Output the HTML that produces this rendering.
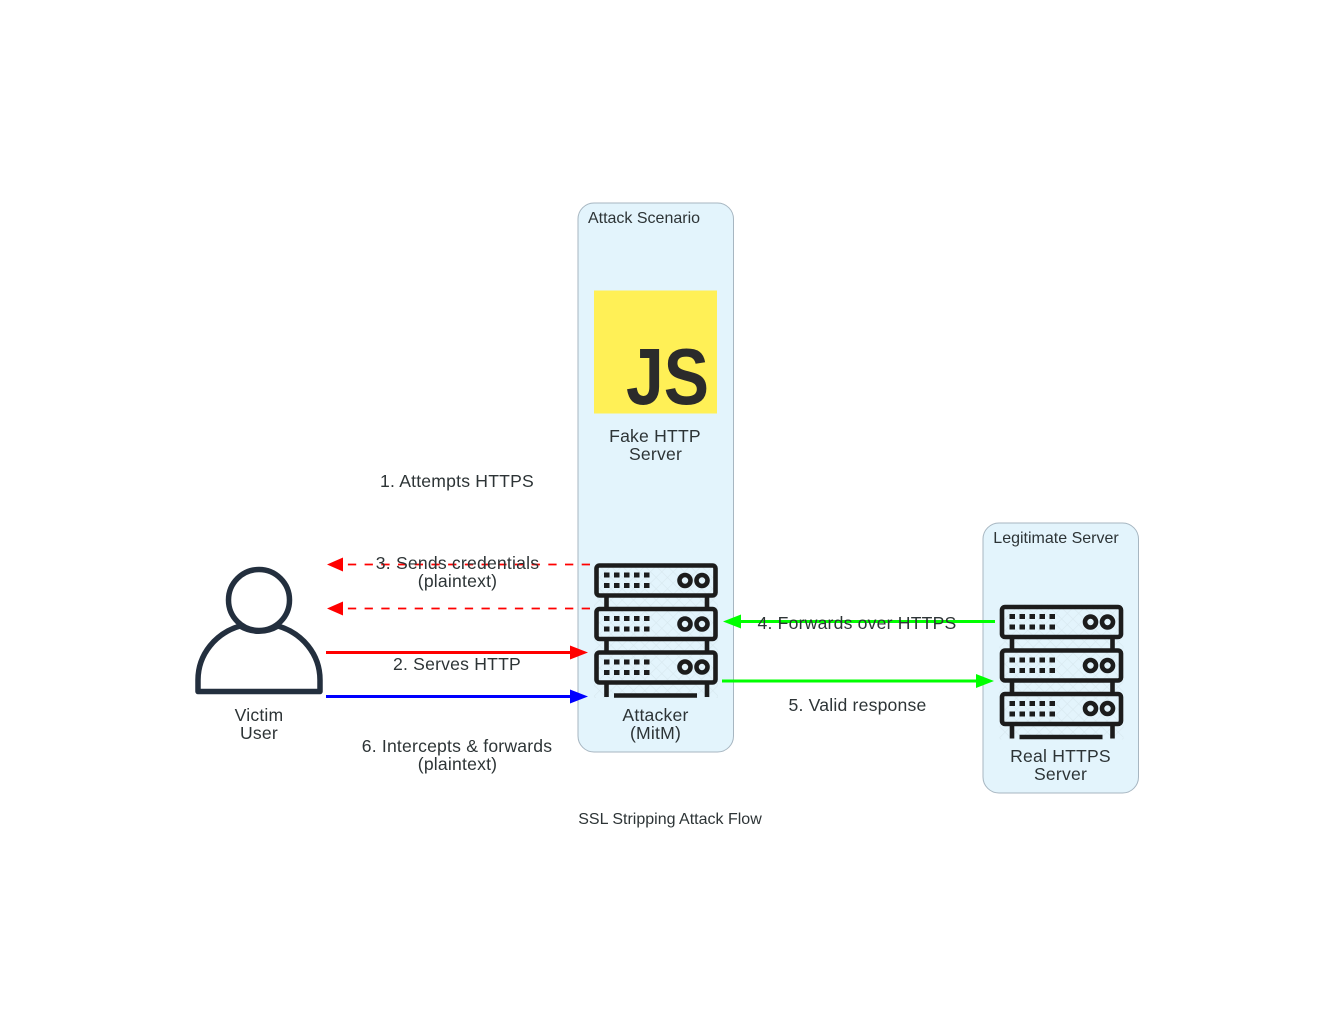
<!DOCTYPE html>
<html><head><meta charset="utf-8"><title>SSL Stripping Attack Flow</title>
<style>
html,body{margin:0;padding:0;background:#fff}
svg{display:block}
text{font-family:"Liberation Sans",sans-serif;font-size:17.6px;letter-spacing:.2px;fill:#2d3436;text-anchor:middle}
.s{font-size:16px;letter-spacing:0}
</style></head><body>
<svg width="1342" height="1026" viewBox="0 0 1342 1026" xmlns="http://www.w3.org/2000/svg">
<defs>
<pattern id="hatch" width="8" height="8" patternUnits="userSpaceOnUse" patternTransform="rotate(45)">
  <path d="M0 0H8M0 0V8" stroke="#c3d0d6" stroke-width="1.200" fill="none" opacity=".35"/>
</pattern>
<g id="srv">
  <rect x="594" y="563" width="124" height="135" fill="url(#hatch)"/>
  <g fill="none" stroke="#1c1c1c" stroke-width="4.600" stroke-linejoin="round">
    <rect x="596.500" y="565.500" width="119" height="30" rx="3"/>
    <rect x="596.500" y="609" width="119" height="30" rx="3"/>
    <rect x="596.500" y="652.500" width="119" height="30" rx="3"/>
    <circle cx="685" cy="580.500" r="5.500"/><circle cx="702" cy="580.500" r="5.500"/>
    <circle cx="685" cy="624" r="5.500"/><circle cx="702" cy="624" r="5.500"/>
    <circle cx="685" cy="667" r="5.500"/><circle cx="702" cy="667" r="5.500"/>
    <path d="M606.500 596v12M707 596v12M606.500 640v12M707 640v12M606.500 683v14M707 683v14"/>
    <path d="M614 695.500h83" stroke-width="4.500"/>
  </g>
  <g fill="#1c1c1c">
    <path id="d1" d="M604 572.500h5.500v5h-5.500zM614 572.500h5.500v5h-5.500zM624 572.500h5.500v5h-5.500zM634 572.500h5.500v5h-5.500zM644 572.500h5.500v5h-5.500zM604 583h5.500v5h-5.500zM614 583h5.500v5h-5.500zM624 583h5.500v5h-5.500zM634 583h5.500v5h-5.500zM644 583h5.500v5h-5.500z"/>
    <use href="#d1" y="43.500"/><use href="#d1" y="87"/>
  </g>
</g>
</defs>

<rect x="578" y="203" width="155.500" height="549" rx="16" fill="#e3f4fc" stroke="#a7b6c1" stroke-width="1"/>
<rect x="983" y="523" width="155.500" height="270" rx="16" fill="#e3f4fc" stroke="#a7b6c1" stroke-width="1"/>
<text class="s" x="644" y="223">Attack Scenario</text>
<text class="s" x="1056" y="543">Legitimate Server</text>

<rect x="594" y="290.500" width="123" height="123" fill="#fff056"/>
<text x="667.500" y="404" textLength="83" lengthAdjust="spacingAndGlyphs" style="font-size:80px;font-weight:bold;letter-spacing:0;fill:#2b2b2b">JS</text>
<text x="655" y="442">Fake HTTP</text>
<text x="655.500" y="460">Server</text>

<use href="#srv"/>
<use href="#srv" x="405.500" y="41.500"/>
<text x="655.500" y="721">Attacker</text>
<text x="655.500" y="739">(MitM)</text>
<text x="1060.500" y="762">Real HTTPS</text>
<text x="1060.500" y="780">Server</text>

<g fill="none" stroke="#232f3e" stroke-width="5.500" stroke-linejoin="round">
  <circle cx="259" cy="600" r="30.500"/>
  <path d="M198 691.500V680C198 654 216 633 240 626C252 633 266 633 278 626C302 633 320 654 320 680V691.500Z"/>
</g>
<text x="259" y="721">Victim</text>
<text x="259" y="739">User</text>

<g stroke-width="3" fill="none">
  <path d="M590 564.500H342M590 608.500H342" stroke="#f00" stroke-width="1.800" stroke-dasharray="8.300 8.400"/>
  <path d="M326 652.500H572" stroke="#f00"/>
  <path d="M326 696.500H572" stroke="#00f"/>
  <path d="M995 621.500H740" stroke="#0f0"/>
  <path d="M722 681H978" stroke="#0f0"/>
</g>
<path d="M327 564.500L343 557.500V571.500Z" fill="#f00"/>
<path d="M327 608.500L343 601.500V615.500Z" fill="#f00"/>
<path d="M588 652.500L570 645.500V659.500Z" fill="#f00"/>
<path d="M588 696.500L570 689.500V703.500Z" fill="#00f"/>
<path d="M723 621.500L741 614.500V628.500Z" fill="#0f0"/>
<path d="M994 681L976 674V688Z" fill="#0f0"/>

<text x="457" y="487">1. Attempts HTTPS</text>
<text x="457.500" y="569">3. Sends credentials</text>
<text x="457.500" y="587">(plaintext)</text>
<text x="457" y="670">2. Serves HTTP</text>
<text x="857" y="629">4. Forwards over HTTPS</text>
<text x="857.500" y="711">5. Valid response</text>
<text x="457" y="752">6. Intercepts &amp; forwards</text>
<text x="457.500" y="770">(plaintext)</text>
<text class="s" x="670" y="824">SSL Stripping Attack Flow</text>
</svg>
</body></html>
